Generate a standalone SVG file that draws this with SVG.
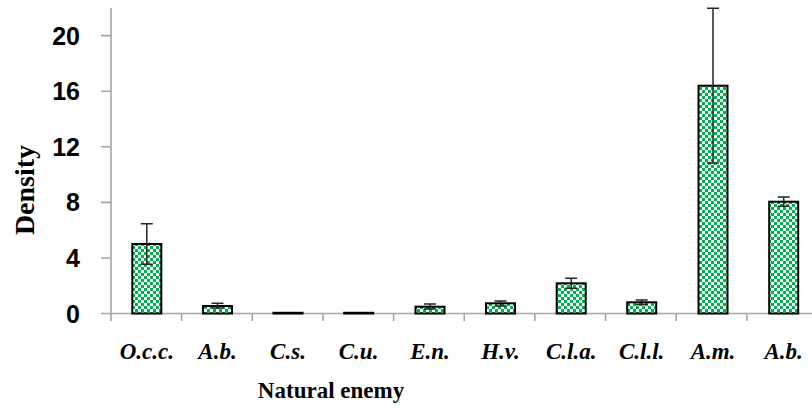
<svg xmlns="http://www.w3.org/2000/svg" width="812" height="413" viewBox="0 0 812 413">
<defs>
<pattern id="chk" patternUnits="userSpaceOnUse" width="6" height="6">
<rect width="6" height="6" fill="#ffffff"/>
<rect x="0" y="0" width="3" height="3" fill="#00B050"/>
<rect x="3" y="3" width="3" height="3" fill="#00B050"/>
</pattern>
</defs>
<style>
.ax{stroke:#A6A6A6;stroke-width:1.6;fill:none}
.bar{fill:url(#chk);stroke:#000;stroke-width:2}
.err{stroke:#262626;stroke-width:1.5;fill:none}
.yl{font-family:"Liberation Sans",Arial,sans-serif;font-weight:bold;font-size:25px;text-anchor:end;fill:#000}
.xl{font-family:"Liberation Serif","Times New Roman",serif;font-weight:bold;font-style:italic;font-size:23px;text-anchor:middle;fill:#000}
.tt{font-family:"Liberation Serif","Times New Roman",serif;font-weight:bold;font-size:23px;text-anchor:middle;fill:#000}
</style>
<rect width="812" height="413" fill="#fff"/>
<g id="axes">
<path class="ax" d="M111 8V313.5M111 313.5H812"/>
<path class="ax" d="M101 35.6H111M101 91.2H111M101 146.8H111M101 202.4H111M101 258H111M101 313.5H111"/>
<path class="ax" d="M111 313.5V321M181.65 313.5V321M252.3 313.5V321M322.95 313.5V321M393.6 313.5V321M464.25 313.5V321M534.9 313.5V321M605.55 313.5V321M676.2 313.5V321M746.85 313.5V321"/>
</g>
<g id="ylabels">
<text class="yl" x="80" y="44.5">20</text>
<text class="yl" x="80" y="100">16</text>
<text class="yl" x="80" y="155.5">12</text>
<text class="yl" x="80" y="211">8</text>
<text class="yl" x="80" y="267">4</text>
<text class="yl" x="80" y="322.5">0</text>
</g>
<g id="bars">
<g id="bar-occ"><rect class="bar" x="132.3" y="244" width="29" height="69.5"/></g>
<g id="bar-ab1"><rect class="bar" x="203" y="306" width="29" height="7.5"/></g>
<g id="bar-cs"><rect class="bar" x="273.5" y="312.8" width="29" height="0.7"/></g>
<g id="bar-cu"><rect class="bar" x="344.2" y="312.8" width="29" height="0.7"/></g>
<g id="bar-en"><rect class="bar" x="415.5" y="306.7" width="29" height="6.8"/></g>
<g id="bar-hv"><rect class="bar" x="486" y="303.3" width="29" height="10.2"/></g>
<g id="bar-cla"><rect class="bar" x="556.7" y="283.3" width="29" height="30.2"/></g>
<g id="bar-cll"><rect class="bar" x="627.2" y="302.3" width="29" height="11.2"/></g>
<g id="bar-am"><rect class="bar" x="698.5" y="85.7" width="29" height="227.8"/></g>
<g id="bar-ab2"><rect class="bar" x="769.2" y="201.7" width="29" height="111.8"/></g>
</g>
<g id="connectors">
<path class="err" d="M146.8 223.7V264.3M140.8 223.7H152.8M140.8 264.3H152.8"/>
<path class="err" d="M217.5 303.3V308M211.5 303.3H223.5M211.5 308H223.5"/>
<path class="err" d="M430 304V309M424 304H436M424 309H436"/>
<path class="err" d="M500.5 301V306M494.5 301H506.5M494.5 306H506.5"/>
<path class="err" d="M571.2 278.3V288.3M565.2 278.3H577.2M565.2 288.3H577.2"/>
<path class="err" d="M641.7 300V304.5M635.7 300H647.7M635.7 304.5H647.7"/>
<path class="err" d="M713 8.3V163M707 8.3H719M707 163H719"/>
<path class="err" d="M783.7 197V206.3M777.7 197H789.7M777.7 206.3H789.7"/>
</g>
<g id="xlabels">
<text class="xl" x="146.8" y="358.5">O.c.c.</text>
<text class="xl" x="217.5" y="358.5">A.b.</text>
<text class="xl" x="288" y="358.5">C.s.</text>
<text class="xl" x="358.6" y="358.5">C.u.</text>
<text class="xl" x="430" y="358.5">E.n.</text>
<text class="xl" x="500.5" y="358.5">H.v.</text>
<text class="xl" x="571.2" y="358.5">C.l.a.</text>
<text class="xl" x="641.7" y="358.5">C.l.l.</text>
<text class="xl" x="713" y="358.5">A.m.</text>
<text class="xl" x="783.7" y="358.5">A.b.</text>
</g>
<g id="titles">
<text class="tt" x="331" y="398">Natural enemy</text>
<text class="tt" style="font-size:28px" transform="translate(34 190) rotate(-90)" x="0" y="0">Density</text>
</g>
</svg>
